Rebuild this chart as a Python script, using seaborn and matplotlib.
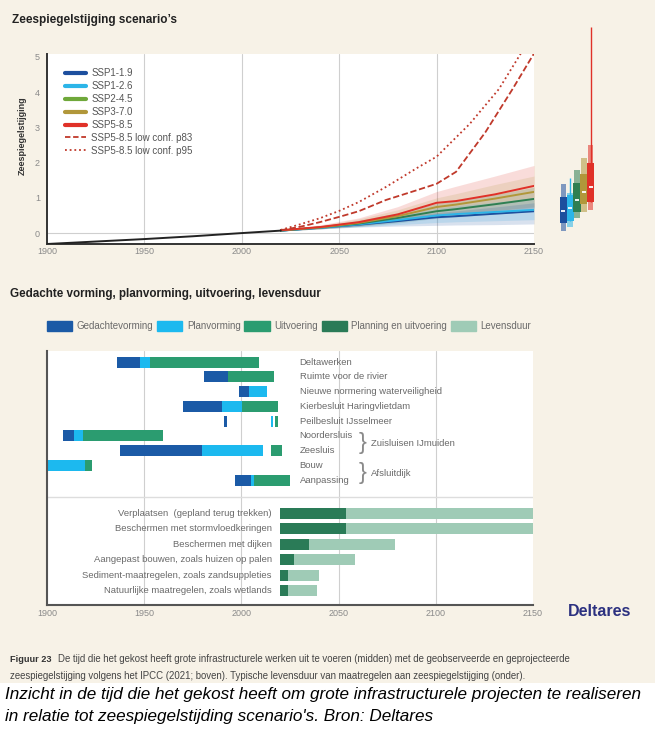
import numpy as np
import pandas as pd
import matplotlib
matplotlib.use("Agg")
import matplotlib.pyplot as plt
import seaborn as sns
from matplotlib.lines import Line2D
from matplotlib.patches import Patch, Rectangle

# --- observed sea level (m, relative to 2000) ---
hist_years = [1900, 1925, 1950, 1975, 2000, 2020]
hist_values = [-0.31, -0.24, -0.17, -0.09, 0.0, 0.07]

# --- projected medians and likely ranges ---
scenarios = ["SSP1-1.9", "SSP1-2.6", "SSP2-4.5", "SSP3-7.0", "SSP5-8.5"]
proj_years = [2020, 2040, 2060, 2080, 2100, 2110, 2130, 2150]

med_119 = [0.07, 0.15, 0.24, 0.34, 0.45, 0.48, 0.55, 0.62]
low_119 = [0.06, 0.12, 0.17, 0.20, 0.22, 0.23, 0.24, 0.26]
high_119 = [0.08, 0.18, 0.30, 0.44, 0.58, 0.63, 0.74, 0.86]

med_126 = [0.07, 0.15, 0.25, 0.37, 0.50, 0.54, 0.60, 0.66]
low_126 = [0.06, 0.12, 0.18, 0.24, 0.30, 0.32, 0.35, 0.38]
high_126 = [0.08, 0.19, 0.33, 0.50, 0.70, 0.77, 0.88, 1.00]

med_245 = [0.07, 0.16, 0.27, 0.43, 0.62, 0.68, 0.82, 0.97]
low_245 = [0.06, 0.12, 0.19, 0.29, 0.42, 0.46, 0.54, 0.62]
high_245 = [0.08, 0.20, 0.36, 0.58, 0.84, 0.93, 1.10, 1.30]

med_370 = [0.08, 0.16, 0.29, 0.48, 0.74, 0.81, 0.98, 1.17]
low_370 = [0.06, 0.12, 0.20, 0.32, 0.48, 0.53, 0.64, 0.75]
high_370 = [0.09, 0.21, 0.40, 0.66, 1.00, 1.12, 1.38, 1.62]

med_585 = [0.08, 0.17, 0.31, 0.53, 0.86, 0.91, 1.10, 1.34]
low_585 = [0.06, 0.12, 0.21, 0.34, 0.52, 0.56, 0.64, 0.72]
high_585 = [0.10, 0.23, 0.43, 0.75, 1.18, 1.33, 1.62, 1.92]

# low confidence SSP5-8.5 pathways
p83_years = [2020, 2030, 2040, 2050, 2060, 2074, 2090, 2100, 2110, 2125, 2139, 2150]
p83_values = [0.08, 0.18, 0.31, 0.46, 0.62, 0.94, 1.22, 1.40, 1.74, 2.86, 4.09, 5.10]
p95_years = [2020, 2030, 2040, 2050, 2060, 2074, 2090, 2100, 2117, 2132, 2143, 2150]
p95_values = [0.09, 0.25, 0.42, 0.63, 0.88, 1.31, 1.85, 2.17, 3.10, 4.09, 5.08, 5.80]

# --- ranges in 2150 (side boxes) ---
box_light_lo = [0.06, 0.17, 0.43, 0.60, 0.66]
box_light_hi = [1.40, 1.15, 1.80, 2.14, 2.49]
box_lo = [0.29, 0.33, 0.60, 0.83, 0.89]
box_hi = [1.03, 1.09, 1.43, 1.69, 2.00]
box_med = [0.63, 0.71, 0.94, 1.17, 1.31]
whisker_hi = [np.nan, 1.57, np.nan, np.nan, 5.86]

# --- infrastructure projects ---
projects = ["Deltawerken", "Ruimte voor de rivier", "Nieuwe normering waterveiligheid",
            "Kierbesluit Haringvlietdam", "Peilbesluit IJsselmeer", "Noordersluis",
            "Zeesluis", "Bouw", "Aanpassing"]
seg_project = [0, 0, 0, 1, 1, 2, 2, 3, 3, 3, 4, 4, 4, 5, 5, 5, 6, 6, 6, 7, 7, 8, 8, 8]
seg_phase = ["G", "P", "U", "G", "U", "G", "P", "G", "P", "U", "G", "P", "U",
             "G", "P", "U", "G", "P", "U", "P", "U", "G", "P", "U"]
seg_start = [1936, 1948, 1953, 1981, 1993, 1999, 2004, 1970, 1990, 2000.5, 1991, 2015, 2017.3,
             1908, 1914, 1918.5, 1937.5, 1979.5, 2015, 1900, 1919.5, 1996.5, 2005, 2006.5]
seg_end = [1948, 1953, 2009, 1993, 2017, 2004, 2013, 1990, 2000.5, 2019, 1992.5, 2016.2, 2018.6,
           1914, 1918.5, 1959.5, 1979.5, 2011, 2021, 1919.5, 1923, 2005, 2006.5, 2025]

# --- measures: planning/execution and lifetime ---
measures = ["Verplaatsen  (gepland terug trekken)", "Beschermen met stormvloedkeringen",
            "Beschermen met dijken", "Aangepast bouwen, zoals huizen op palen",
            "Sediment-maatregelen, zoals zandsuppleties", "Natuurlijke maatregelen, zoals wetlands"]
plan_start = [2020, 2020, 2020, 2020, 2020, 2020]
plan_end = [2054, 2054, 2035, 2027, 2024, 2024]
life_end = [2150, 2150, 2079, 2058.5, 2040, 2039]

phase_names = ["Gedachtevorming", "Planvorming", "Uitvoering", "Planning en uitvoering", "Levensduur"]

# colours
ssp_colors = ["#1d4f9e", "#2cb5e8", "#2f7f52", "#b1973a", "#e03128"]
legend_colors = ["#1d4f9e", "#2cb5e8", "#6fa83a", "#b1973a", "#e03128"]
phase_colors = {"G": "#1b5aa6", "P": "#1cb9ef", "U": "#2b9c70", "PU": "#2a7b57", "L": "#9fcbb6"}
cream = "#f7f2e7"
grid_c = "#cfcfcf"
text_c = "#6a6a6a"

W, H = 655, 732
sns.set_theme(style="white")
plt.rcParams["font.family"] = ["Liberation Sans", "DejaVu Sans"]

fig = plt.figure(figsize=(W / 100, H / 100), dpi=100)
fig.patch.set_facecolor("white")
fig.patches.append(Rectangle((0, 1 - 683 / H), 1, 683 / H, transform=fig.transFigure,
                             facecolor=cream, edgecolor="none", zorder=-10))


def px_axes(x0, y0, x1, y1):
    return fig.add_axes([x0 / W, 1 - y1 / H, (x1 - x0) / W, (y1 - y0) / H])


# ================= top: sea level scenarios =================
ax = px_axes(47, 54, 534, 244)
ax.set_facecolor("white")

meds = [med_119, med_126, med_245, med_370, med_585]
lows = [low_119, low_126, low_245, low_370, low_585]
highs = [high_119, high_126, high_245, high_370, high_585]

for lo, hi, c in zip(lows[::-1], highs[::-1], ssp_colors[::-1]):
    ax.fill_between(proj_years, lo, hi, color=c, alpha=0.17, lw=0, zorder=1)

proj = pd.DataFrame({
    "year": np.tile(proj_years, len(scenarios)),
    "value": np.concatenate(meds),
    "scenario": np.repeat(scenarios, len(proj_years)),
})
sns.lineplot(data=proj, x="year", y="value", hue="scenario", palette=ssp_colors,
             hue_order=scenarios, lw=1.4, legend=False, ax=ax, zorder=3)
sns.lineplot(x=hist_years, y=hist_values, color="#222222", lw=1.4, ax=ax, zorder=4)
ax.plot(p83_years, p83_values, color="#c0392b", lw=1.3, ls=(0, (3.5, 1.5)), zorder=3)
ax.plot(p95_years, p95_values, color="#c0392b", lw=1.3, ls=(0, (1, 1.6)), zorder=3)

ax.set_xlim(1900, 2150)
ax.set_ylim(-0.31, 5.085)
ax.set_xticks([1900, 1950, 2000, 2050, 2100, 2150])
ax.set_yticks([0, 1, 2, 3, 4, 5])
for x in [1950, 2000, 2050, 2100]:
    ax.axvline(x, color=grid_c, lw=0.8, zorder=0)
ax.axhline(0, color=grid_c, lw=0.8, zorder=0)
for s in ["top", "right"]:
    ax.spines[s].set_visible(False)
for s in ["left", "bottom"]:
    ax.spines[s].set_color("#333333")
    ax.spines[s].set_linewidth(1.4)
ax.tick_params(axis="both", labelsize=6.5, colors="#8a8a8a", length=0, pad=2)
ax.tick_params(axis="y", length=3, width=0.6, pad=2)
ax.set_xlabel("")
ax.set_ylabel("")

handles = [Line2D([], [], color=c, lw=3) for c in legend_colors]
handles += [Line2D([], [], color="#c0392b", lw=1.3, ls=(0, (3, 1.5))),
            Line2D([], [], color="#c0392b", lw=1.3, ls=(0, (1, 1.6)))]
labels = scenarios + ["SSP5-8.5 low conf. p83", "SSP5-8.5 low conf. p95"]
leg = ax.legend(handles, labels, loc="upper left", bbox_to_anchor=(0.037, 0.925),
                frameon=False, fontsize=7, handlelength=2.2, handletextpad=0.5,
                labelspacing=0.3, borderpad=0, borderaxespad=0)
for t in leg.get_texts():
    t.set_color("#555555")

fig.text(22 / W, 1 - 136 / H, "Zeespiegelstijging", rotation=90, fontsize=6.5,
         fontweight="bold", color="#333333", ha="center", va="center")
fig.text(12 / W, 1 - 20 / H, "Zeespiegelstijging scenario\u2019s", fontsize=8.5,
         fontweight="bold", color="#222222", ha="left", va="center")

# side boxes (2150 ranges)
bx = px_axes(560, 20, 594, 244)
bx.set_xlim(-0.5, 4.5)
bx.set_ylim(-0.31, 6.05)
bx.axis("off")
pos = np.arange(len(scenarios))
bx.vlines(pos, box_lo, whisker_hi, colors=ssp_colors, lw=1.0, zorder=1)
bx.bar(pos, np.subtract(box_light_hi, box_light_lo), bottom=box_light_lo, width=0.8,
       color=ssp_colors, alpha=0.55, lw=0, zorder=2)
bx.bar(pos, np.subtract(box_hi, box_lo), bottom=box_lo, width=1.05,
       color=ssp_colors, lw=0, zorder=3)
bx.hlines(box_med, pos - 0.3, pos + 0.3, colors="white", lw=1.3, zorder=4)

# ================= middle/bottom: timelines =================
fig.text(10 / W, 1 - 294 / H, "Gedachte vorming, planvorming, uitvoering, levensduur",
         fontsize=8.4, fontweight="bold", color="#222222", ha="left", va="center")

gx = px_axes(47, 351, 533, 605)
gx.set_facecolor("white")
gx.set_xlim(1900, 2150)
gx.set_ylim(16.47, -0.75)
for x in [1950, 2000, 2050, 2100]:
    gx.axvline(x, color=grid_c, lw=0.8, zorder=0)
gx.axhline(9.15, color="#dddddd", lw=1.0, zorder=0)

for p, ph, s, e in zip(seg_project, seg_phase, seg_start, seg_end):
    gx.barh(p, e - s, left=s, height=0.75, color=phase_colors[ph], lw=0, zorder=2)

for i, name in enumerate(projects):
    gx.text(2030, i, name, fontsize=6.8, color=text_c, ha="left", va="center")

gx.text(2062.5, 5.5, "}", fontsize=17, color="#8a8a8a", ha="center", va="center",
        fontweight="light")
gx.text(2066.7, 5.5, "Zuisluisen IJmuiden", fontsize=6.8, color=text_c, ha="left", va="center")
gx.text(2062.5, 7.55, "}", fontsize=17, color="#8a8a8a", ha="center", va="center",
        fontweight="light")
gx.text(2066.7, 7.55, "Afsluitdijk", fontsize=6.8, color=text_c, ha="left", va="center")

mrows = 10.25 + np.arange(len(measures)) * 1.05
gx.barh(mrows, np.subtract(plan_end, plan_start), left=plan_start, height=0.75,
        color=phase_colors["PU"], lw=0, zorder=2)
gx.barh(mrows, np.subtract(life_end, plan_end), left=plan_end, height=0.75,
        color=phase_colors["L"], lw=0, zorder=2)
for y, name in zip(mrows, measures):
    gx.text(2015.7, y, name, fontsize=6.8, color=text_c, ha="right", va="center")

gx.set_xticks([1900, 1950, 2000, 2050, 2100, 2150])
gx.set_yticks([])
for s in ["top", "right"]:
    gx.spines[s].set_visible(False)
for s in ["left", "bottom"]:
    gx.spines[s].set_color("#555555")
    gx.spines[s].set_linewidth(1.5)
gx.tick_params(axis="x", labelsize=6.5, colors="#8a8a8a", length=0, pad=3)

phase_handles = [Patch(color=phase_colors[k]) for k in ["G", "P", "U", "PU", "L"]]
pleg = fig.legend(phase_handles, phase_names, loc="center left",
                  bbox_to_anchor=(47 / W, 1 - 326 / H), ncol=5, frameon=False,
                  fontsize=7, handlelength=2.6, handleheight=1.2, handletextpad=0.45,
                  columnspacing=0.4, borderpad=0, borderaxespad=0)
for t in pleg.get_texts():
    t.set_color(text_c)

fig.text(600 / W, 1 - 611 / H, "Deltares", fontsize=11.5, fontweight="bold",
         color="#2c3180", ha="center", va="center")

# captions
fig.text(10 / W, 1 - 659 / H, "Figuur 23", fontsize=6.6, fontweight="bold",
         color="#333333", ha="left", va="center")
fig.text(58 / W, 1 - 659 / H,
         "De tijd die het gekost heeft grote infrastructurele werken uit te voeren (midden) "
         "met de geobserveerde en geprojecteerde",
         fontsize=6.9, color="#444444", ha="left", va="center")
fig.text(10 / W, 1 - 676 / H,
         "zeespiegelstijging volgens het IPCC (2021; boven). Typische levensduur van "
         "maatregelen aan zeespiegelstijging (onder).",
         fontsize=6.9, color="#444444", ha="left", va="center")

fig.text(5 / W, 1 - 695 / H,
         "Inzicht in de tijd die het gekost heeft om grote infrastructurele projecten te realiseren",
         fontsize=12.3, style="italic", color="black", ha="left", va="center")
fig.text(5 / W, 1 - 717 / H,
         "in relatie tot zeespiegelstijding scenario's. Bron: Deltares",
         fontsize=12.3, style="italic", color="black", ha="left", va="center")

fig.savefig("out.png", dpi=100)
